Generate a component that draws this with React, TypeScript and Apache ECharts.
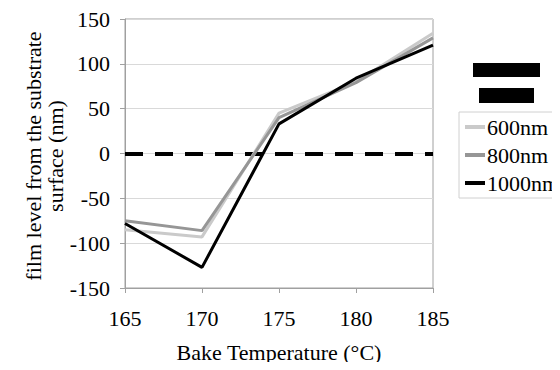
import React, { useEffect, useRef } from "react";
import * as echarts from "echarts";

const temperatures = [165, 170, 175, 180, 185];
const series600 = [-85, -93, 45, 80, 134];
const series800 = [-75, -86, 40, 79, 129];
const series1000 = [-78, -127, 33, 84, 121];
const seriesNames = ["600nm", "800nm", "1000nm"];
const seriesColors = ["#cacaca", "#969696", "#000000"];
const yTicks = { min: -150, max: 150, interval: 50 };
const xTicks = { min: 165, max: 185, interval: 5 };

const FONT = "'Liberation Serif', 'Times New Roman', serif";

export default function App() {
  const ref = useRef<HTMLDivElement>(null);
  useEffect(() => {
    if (!ref.current) return;
    const chart = echarts.init(ref.current, undefined, { renderer: "svg" });
    const allData = [series600, series800, series1000];
    chart.setOption({
      animation: false,
      backgroundColor: "#ffffff",
      textStyle: { fontFamily: FONT, color: "#000" },
      grid: { left: 125, top: 19, right: 127, bottom: 82, show: true, borderColor: "#a0a0a0", borderWidth: 1 },
      xAxis: {
        type: "value",
        min: xTicks.min,
        max: xTicks.max,
        interval: xTicks.interval,
        name: "Bake Temperature (°C)",
        nameLocation: "middle",
        nameGap: 53,
        nameTextStyle: { fontFamily: FONT, fontSize: 22, color: "#000" },
        axisLine: { show: true, onZero: false, lineStyle: { color: "#a0a0a0", width: 1 } },
        axisTick: { show: true, length: 5, inside: false, lineStyle: { color: "#a0a0a0" } },
        axisLabel: { fontFamily: FONT, fontSize: 22, color: "#000", margin: 19 },
        splitLine: { show: false },
      },
      yAxis: {
        type: "value",
        min: yTicks.min,
        max: yTicks.max,
        interval: yTicks.interval,
        axisLine: { show: true, onZero: false, lineStyle: { color: "#a0a0a0", width: 1 } },
        axisTick: { show: true, length: 5, lineStyle: { color: "#a0a0a0" } },
        axisLabel: { fontFamily: FONT, fontSize: 22, color: "#000", margin: 15 },
        splitLine: { show: true, lineStyle: { color: "#d9d9d9", width: 1 } },
      },
      legend: {
        orient: "vertical",
        left: 459,
        top: 112,
        borderColor: "#d0d0d0",
        borderWidth: 1,
        padding: [4, 4, 4, 6],
        itemGap: 6,
        itemWidth: 20,
        itemHeight: 4,
        icon: "rect",
        textStyle: { fontFamily: FONT, fontSize: 22, color: "#000", padding: [0, 0, 0, -3] },
        data: seriesNames,
      },
      graphic: [
        {
          type: "text",
          x: 44,
          y: 156,
          rotation: Math.PI / 2,
          style: {
            text: "film level from the substrate\nsurface (nm)",
            font: `22px ${FONT}`,
            fill: "#000",
            align: "center",
            verticalAlign: "middle",
            lineHeight: 22,
          },
        },
        { type: "rect", shape: { x: 473, y: 63, width: 67, height: 14 }, style: { fill: "#000" } },
        { type: "rect", shape: { x: 479, y: 88, width: 55, height: 15 }, style: { fill: "#000" } },
      ],
      series: seriesNames.map((name, i) => ({
        name,
        type: "line",
        data: temperatures.map((t, j) => [t, allData[i][j]]),
        showSymbol: false,
        symbol: "none",
        lineStyle: { color: seriesColors[i], width: 3 },
        itemStyle: { color: seriesColors[i] },
        z: 3 + i,
        markLine:
          i === 0
            ? {
                silent: true,
                symbol: "none",
                label: { show: false },
                lineStyle: { color: "#000", width: 4, type: [18, 12] },
                data: [{ yAxis: 0 }],
                z: 2,
              }
            : undefined,
      })),
    });
    return () => chart.dispose();
  }, []);
  return <div ref={ref} style={{ width: 560, height: 370, margin: -8 }} />;
}
